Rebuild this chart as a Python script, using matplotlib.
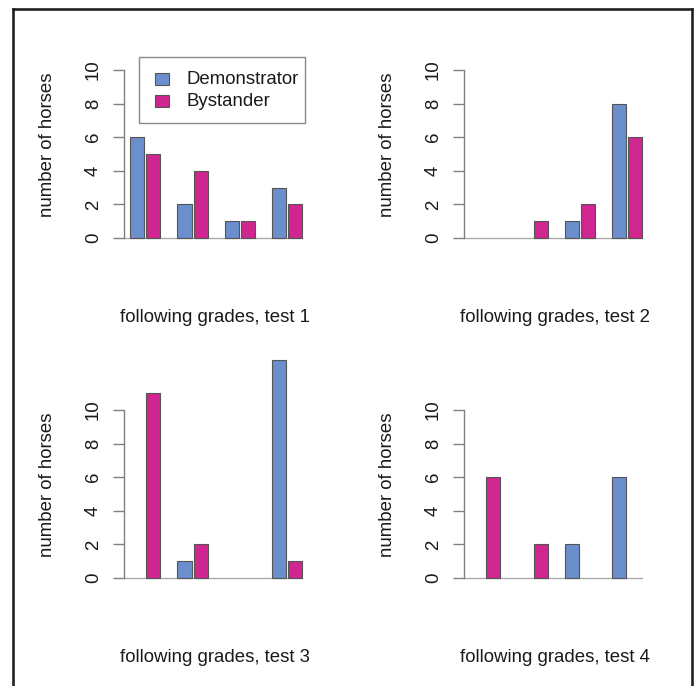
import matplotlib
matplotlib.use("Agg")
import matplotlib.pyplot as plt
from matplotlib.patches import Rectangle
from matplotlib.lines import Line2D

plt.rcParams['font.family'] = ['Liberation Sans', 'DejaVu Sans']

series_names = ["Demonstrator", "Bystander"]
demonstrator = {
    1: [6, 2, 1, 3],
    2: [0, 0, 1, 8],
    3: [0, 1, 0, 13],
    4: [0, 0, 2, 6],
}
bystander = {
    1: [5, 4, 1, 2],
    2: [0, 1, 2, 6],
    3: [11, 2, 0, 1],
    4: [6, 2, 0, 0],
}
xlabels = {1: "following grades, test 1", 2: "following grades, test 2",
           3: "following grades, test 3", 4: "following grades, test 4"}
ylabel = "number of horses"
yticks = [0, 2, 4, 6, 8, 10]

W, H = 697, 686
DPI = 100
fig = plt.figure(figsize=(W / DPI, H / DPI), dpi=DPI)

BLUE = "#6a8fcc"
MAGENTA = "#cf2690"
EDGE = "#555555"
AXC = "#808080"
TXT = "#1a1a1a"
FS = 13.4

def fx(x):
    return x / W

def fy(y):
    return 1 - y / H

# panel geometry (pixels)
px_per_x = 47.3
px_per_y = 16.8
xlim = (-0.45, 3.45)
ylim = (-0.5, 13.5)
offsets = {1: (0, 0), 2: (340, 0), 3: (0, 340), 4: (340, 340)}

for k in [1, 2, 3, 4]:
    dx, dy = offsets[k]
    left = 124 + dx
    width = (xlim[1] - xlim[0]) * px_per_x
    y0 = 238 + dy  # pixel of value 0
    bottom = y0 - ylim[0] * px_per_y
    top = y0 - ylim[1] * px_per_y
    ax = fig.add_axes([fx(left), fy(bottom), width / W, (bottom - top) / H])
    ax.set_xlim(*xlim)
    ax.set_ylim(*ylim)
    ax.patch.set_alpha(0)
    for s in ["top", "right", "bottom"]:
        ax.spines[s].set_visible(False)
    ax.spines["left"].set_bounds(0, 10)
    ax.spines["left"].set_color(AXC)
    ax.spines["left"].set_linewidth(1.0)
    ax.set_xticks([])
    ax.set_yticks(yticks)
    ax.set_yticklabels([str(t) for t in yticks], rotation=90, va="center",
                       ha="center", fontsize=FS, color=TXT)
    ax.tick_params(axis="y", length=8, width=1.0, color=AXC, pad=14)
    groups = list(range(4))
    d = demonstrator[k]
    b = bystander[k]
    for vals, off, col in [(d, -0.17, BLUE), (b, 0.17, MAGENTA)]:
        xs = [g + off for g, v in zip(groups, vals) if v > 0]
        hs = [v for v in vals if v > 0]
        ax.bar(xs, hs, width=0.30, color=col, edgecolor=EDGE,
               linewidth=0.8, zorder=3)
    ax.plot([xlim[0], 3 + 0.17 + 0.15], [0, 0], color="#aaaaaa", lw=1.0,
            zorder=2, clip_on=False)
    fig.text(fx(48 + dx), fy(145 + dy), ylabel, rotation=90, ha="center",
             va="center", fontsize=FS, color=TXT)
    fig.text(fx(215 + dx), fy(317 + dy), xlabels[k], ha="center",
             va="center", fontsize=FS, color=TXT)

# legend (pixels)
lx0, ly0, lx1, ly1 = 139, 57, 305, 123
fig.add_artist(Rectangle((fx(lx0), fy(ly1)), (lx1 - lx0) / W, (ly1 - ly0) / H,
                         transform=fig.transFigure, facecolor="white",
                         edgecolor="#888888", linewidth=1.0))
for i, (name, col) in enumerate(zip(series_names, [BLUE, MAGENTA])):
    yc = 79 + i * 22
    fig.add_artist(Rectangle((fx(155), fy(yc + 6)), 14 / W, 12 / H,
                             transform=fig.transFigure, facecolor=col,
                             edgecolor=EDGE, linewidth=0.8))
    fig.text(fx(186), fy(yc), name, ha="left", va="center", fontsize=FS,
             color=TXT)

# outer frame
frame_col = "#222222"
lw = 1.9
fig.add_artist(Line2D([fx(13.5), fx(13.5)], [fy(8.5), fy(700)],
                      transform=fig.transFigure, color=frame_col, lw=lw))
fig.add_artist(Line2D([fx(13.5), fx(692)], [fy(8.5), fy(8.5)],
                      transform=fig.transFigure, color=frame_col, lw=lw))
fig.add_artist(Line2D([fx(692), fx(692)], [fy(8.5), fy(700)],
                      transform=fig.transFigure, color=frame_col, lw=lw))

fig.savefig("out.png", dpi=DPI)
